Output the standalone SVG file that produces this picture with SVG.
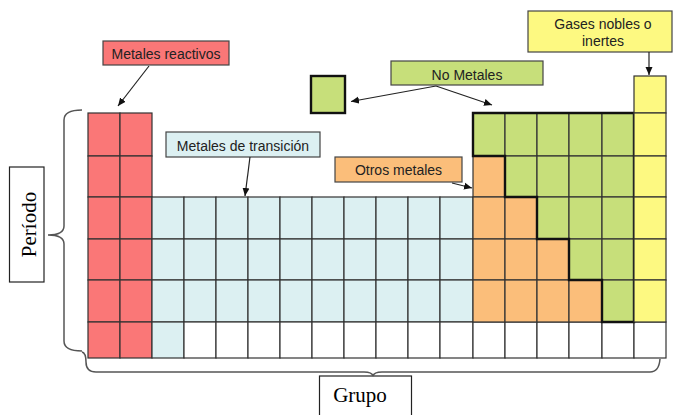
<svg xmlns="http://www.w3.org/2000/svg" width="673" height="415" viewBox="0 0 673 415">
<defs>
<style>
.cell{stroke:#333;stroke-width:1.2}
.red{fill:#fa7777}
.blue{fill:#dcf0f2}
.green{fill:#c7df7a}
.orange{fill:#fbbe7a}
.yellow{fill:#fdf981}
.white{fill:#fff}
.lbl{stroke:#444;stroke-width:1.2}
.t{font-family:"Liberation Sans",Arial,sans-serif;font-size:14px;fill:#222;text-anchor:middle}
.s{font-family:"Liberation Serif","Times New Roman",serif;font-size:21px;fill:#000;text-anchor:middle}
.conn{stroke:#222;stroke-width:1.2;fill:none}
.brace{stroke:#555;stroke-width:1.5;fill:none}
</style>
<marker id="ah" markerUnits="userSpaceOnUse" markerWidth="9" markerHeight="8" refX="8" refY="4" orient="auto">
<path d="M0,0.5 L8,4 L0,7.5 Z" fill="#111"/>
</marker>
</defs>
<rect width="673" height="415" fill="#fff"/>

<g id="metales-reactivos-cells">
<rect class="cell red" x="88" y="113" width="32" height="43"/>
<rect class="cell red" x="120" y="113" width="32" height="43"/>
<rect class="cell red" x="88" y="156" width="32" height="41"/>
<rect class="cell red" x="120" y="156" width="32" height="41"/>
<rect class="cell red" x="88" y="197" width="32" height="42"/>
<rect class="cell red" x="120" y="197" width="32" height="42"/>
<rect class="cell red" x="88" y="239" width="32" height="41"/>
<rect class="cell red" x="120" y="239" width="32" height="41"/>
<rect class="cell red" x="88" y="280" width="32" height="42"/>
<rect class="cell red" x="120" y="280" width="32" height="42"/>
<rect class="cell red" x="88" y="322" width="32" height="36"/>
<rect class="cell red" x="120" y="322" width="32" height="36"/>
</g>

<g id="metales-transicion-cells">
<rect class="cell blue" x="152" y="197" width="32" height="42"/><rect class="cell blue" x="184" y="197" width="32" height="42"/><rect class="cell blue" x="216" y="197" width="32" height="42"/><rect class="cell blue" x="248" y="197" width="32" height="42"/><rect class="cell blue" x="280" y="197" width="32" height="42"/><rect class="cell blue" x="312" y="197" width="32" height="42"/><rect class="cell blue" x="344" y="197" width="32" height="42"/><rect class="cell blue" x="376" y="197" width="32" height="42"/><rect class="cell blue" x="408" y="197" width="32" height="42"/><rect class="cell blue" x="440" y="197" width="33" height="42"/>
<rect class="cell blue" x="152" y="239" width="32" height="41"/><rect class="cell blue" x="184" y="239" width="32" height="41"/><rect class="cell blue" x="216" y="239" width="32" height="41"/><rect class="cell blue" x="248" y="239" width="32" height="41"/><rect class="cell blue" x="280" y="239" width="32" height="41"/><rect class="cell blue" x="312" y="239" width="32" height="41"/><rect class="cell blue" x="344" y="239" width="32" height="41"/><rect class="cell blue" x="376" y="239" width="32" height="41"/><rect class="cell blue" x="408" y="239" width="32" height="41"/><rect class="cell blue" x="440" y="239" width="33" height="41"/>
<rect class="cell blue" x="152" y="280" width="32" height="42"/><rect class="cell blue" x="184" y="280" width="32" height="42"/><rect class="cell blue" x="216" y="280" width="32" height="42"/><rect class="cell blue" x="248" y="280" width="32" height="42"/><rect class="cell blue" x="280" y="280" width="32" height="42"/><rect class="cell blue" x="312" y="280" width="32" height="42"/><rect class="cell blue" x="344" y="280" width="32" height="42"/><rect class="cell blue" x="376" y="280" width="32" height="42"/><rect class="cell blue" x="408" y="280" width="32" height="42"/><rect class="cell blue" x="440" y="280" width="33" height="42"/>
<rect class="cell blue" x="152" y="322" width="32" height="36"/>
</g>

<g id="vacias-cells">
<rect class="cell white" x="184" y="322" width="32" height="36"/><rect class="cell white" x="216" y="322" width="32" height="36"/><rect class="cell white" x="248" y="322" width="32" height="36"/><rect class="cell white" x="280" y="322" width="32" height="36"/><rect class="cell white" x="312" y="322" width="32" height="36"/><rect class="cell white" x="344" y="322" width="32" height="36"/><rect class="cell white" x="376" y="322" width="32" height="36"/><rect class="cell white" x="408" y="322" width="32" height="36"/><rect class="cell white" x="440" y="322" width="33" height="36"/><rect class="cell white" x="473" y="322" width="32" height="36"/><rect class="cell white" x="505" y="322" width="32" height="36"/><rect class="cell white" x="537" y="322" width="32" height="36"/><rect class="cell white" x="569" y="322" width="33" height="36"/><rect class="cell white" x="602" y="322" width="32" height="36"/><rect class="cell white" x="634" y="322" width="32" height="36"/>
</g>

<g id="otros-metales-cells">
<rect class="cell orange" x="473" y="156" width="32" height="41"/>
<rect class="cell orange" x="473" y="197" width="32" height="42"/><rect class="cell orange" x="505" y="197" width="32" height="42"/>
<rect class="cell orange" x="473" y="239" width="32" height="41"/><rect class="cell orange" x="505" y="239" width="32" height="41"/><rect class="cell orange" x="537" y="239" width="32" height="41"/>
<rect class="cell orange" x="473" y="280" width="32" height="42"/><rect class="cell orange" x="505" y="280" width="32" height="42"/><rect class="cell orange" x="537" y="280" width="32" height="42"/><rect class="cell orange" x="569" y="280" width="33" height="42"/>
</g>

<g id="no-metales-cells">
<rect class="cell green" x="473" y="113" width="32" height="43"/><rect class="cell green" x="505" y="113" width="32" height="43"/><rect class="cell green" x="537" y="113" width="32" height="43"/><rect class="cell green" x="569" y="113" width="33" height="43"/><rect class="cell green" x="602" y="113" width="32" height="43"/>
<rect class="cell green" x="505" y="156" width="32" height="41"/><rect class="cell green" x="537" y="156" width="32" height="41"/><rect class="cell green" x="569" y="156" width="33" height="41"/><rect class="cell green" x="602" y="156" width="32" height="41"/>
<rect class="cell green" x="537" y="197" width="32" height="42"/><rect class="cell green" x="569" y="197" width="33" height="42"/><rect class="cell green" x="602" y="197" width="32" height="42"/>
<rect class="cell green" x="569" y="239" width="33" height="41"/><rect class="cell green" x="602" y="239" width="32" height="41"/>
<rect class="cell green" x="602" y="280" width="32" height="42"/>
<polygon points="473,113 634,113 634,322 602,322 602,280 569,280 569,239 537,239 537,197 505,197 505,156 473,156" fill="none" stroke="#111" stroke-width="2.4" stroke-linejoin="miter"/>
</g>

<g id="gases-nobles-cells">
<rect class="cell yellow" x="634" y="76" width="32" height="37"/>
<rect class="cell yellow" x="634" y="113" width="32" height="43"/>
<rect class="cell yellow" x="634" y="156" width="32" height="41"/>
<rect class="cell yellow" x="634" y="197" width="32" height="42"/>
<rect class="cell yellow" x="634" y="239" width="32" height="41"/>
<rect class="cell yellow" x="634" y="280" width="32" height="42"/>
</g>

<g id="no-metales-square">
<rect x="311" y="76" width="34" height="37" class="green" stroke="#111" stroke-width="2.4"/>
</g>

<g id="label-metales-reactivos">
<rect class="lbl red" x="103" y="41" width="126" height="24"/>
<text class="t" x="166" y="59">Metales reactivos</text>
</g>
<g id="label-metales-transicion">
<rect class="lbl blue" x="166" y="132" width="154" height="25"/>
<text class="t" x="243" y="150.5">Metales de transición</text>
</g>
<g id="label-no-metales">
<rect class="lbl green" x="391" y="61" width="152" height="24"/>
<text class="t" x="467" y="79.5">No Metales</text>
</g>
<g id="label-otros-metales">
<rect class="lbl orange" x="335" y="157" width="127" height="25"/>
<text class="t" x="398.5" y="175">Otros metales</text>
</g>
<g id="label-gases-nobles">
<rect class="lbl yellow" x="528" y="11" width="144" height="41"/>
<text class="t" x="603" y="28.5">Gases nobles o</text>
<text class="t" x="603" y="46">inertes</text>
</g>
<g id="label-periodo">
<rect x="9.5" y="167" width="34.5" height="115" fill="#fff" stroke="#222" stroke-width="1.2"/>
<text class="s" transform="translate(36,224.5) rotate(-90)">Período</text>
</g>
<g id="label-grupo">
<rect x="319.5" y="376" width="92" height="42" fill="#fff" stroke="#222" stroke-width="1.2"/>
<text class="s" x="360" y="402">Grupo</text>
</g>

<g id="connectors">
<line class="conn" x1="149" y1="66" x2="118" y2="106" marker-end="url(#ah)"/>
<line class="conn" x1="250" y1="157" x2="245" y2="196" marker-end="url(#ah)"/>
<line class="conn" x1="436" y1="86" x2="351" y2="101.5" marker-end="url(#ah)"/>
<line class="conn" x1="436" y1="86" x2="492" y2="105" marker-end="url(#ah)"/>
<line class="conn" x1="649" y1="52" x2="649" y2="75" marker-end="url(#ah)"/>
<line class="conn" x1="452" y1="183" x2="472" y2="188" marker-end="url(#ah)"/>
<path class="brace" d="M82,110 Q64,110 64,120 L64,226 Q64,235 48,235 Q64,235 64,244 L64,341 Q64,351 82,351"/>
<path class="brace" d="M82,352 Q86,353 86,362 Q86,372 96,372 L364,372 Q372,372 373,376 Q374,372 382,372 L650,372 Q659,372 660,359"/>
</g>
</svg>
